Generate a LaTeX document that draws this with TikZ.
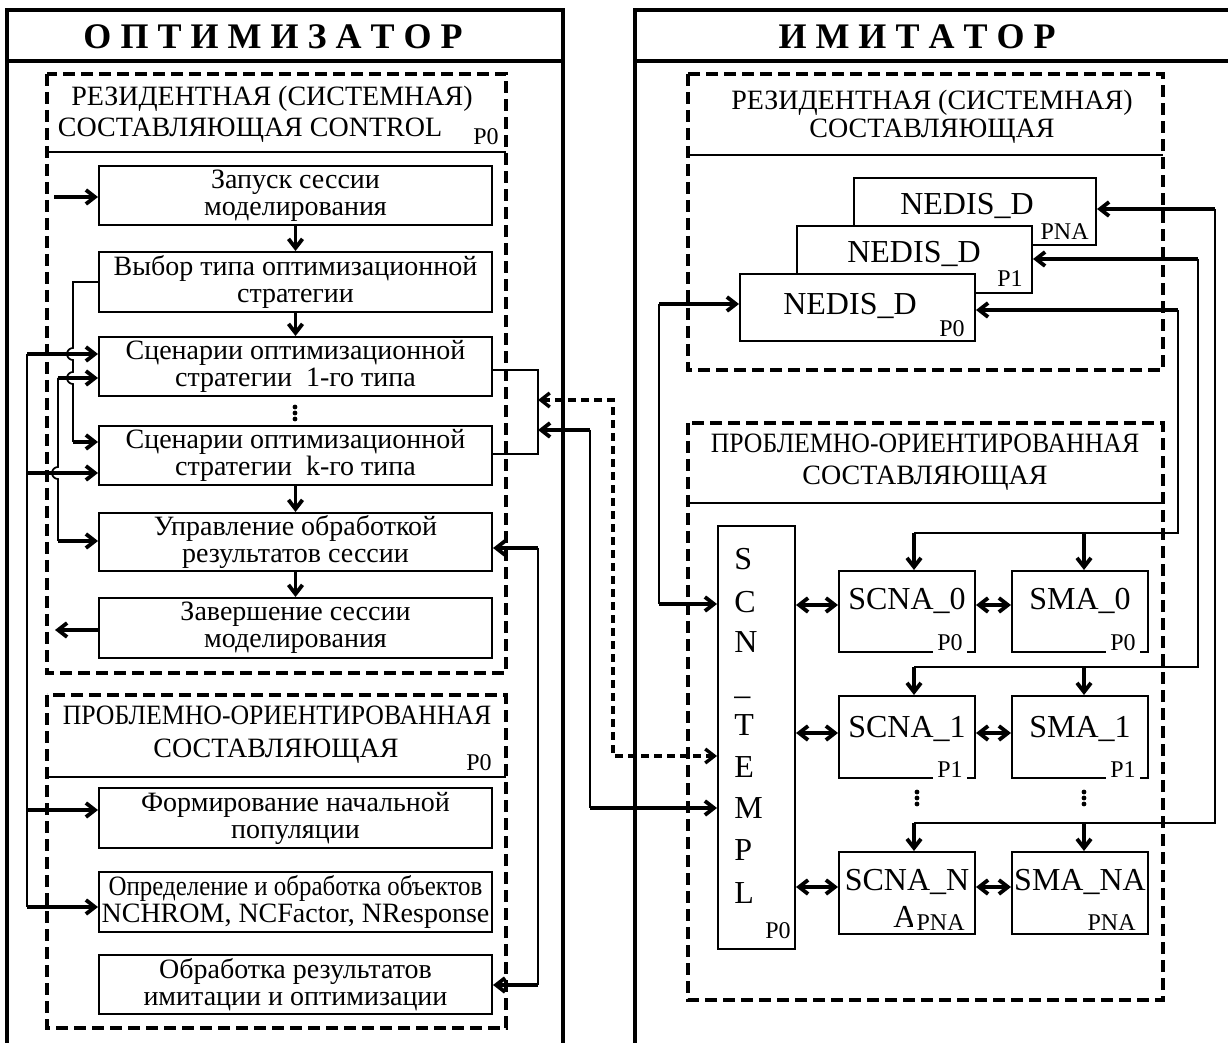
\documentclass[tikz,border=0pt]{standalone}
\usepackage{fontspec}
\setmainfont{Liberation Serif}
\usepackage{graphicx}
\usetikzlibrary{arrows.meta}
\newcommand\bodyf{\fontsize{14}{13.5}\selectfont}
\newcommand\lblf{\fontsize{12}{13}\selectfont}
\newcommand\titf{\fontsize{18}{20}\selectfont\bfseries}
\newcommand\bigf{\fontsize{16}{18}\selectfont}
\newcommand\bx[6]{\node[box,minimum width={(#4-#2)*0.5pt},minimum height={(#5-#3)*0.5pt}] (#1) at ({(#2+#4)/2},{(#3+#5)/2}) {#6};}
\tikzset{
 box/.style={draw,line width=1pt,fill=white,inner sep=0pt,align=center,font=\bodyf},
 txt/.style={inner sep=0pt,align=center,font=\bodyf,anchor=base},
 big/.style={inner sep=0pt,font=\bigf,anchor=base},
 lbl/.style={inner sep=0pt,font=\lblf,anchor=base east},
 wlbl/.style={inner xsep=2pt,inner ysep=1.5pt,font=\lblf,fill=white,anchor=base east},
 frm/.style={line width=1.8pt},
 dbox/.style={line width=1.8pt,dash pattern=on 6pt off 3pt},
 hsep/.style={line width=1pt},
 cn/.style={line width=0.85pt},
 thk/.style={line width=1.9pt},
 arr/.style={-{Straight Barb[length=4.5pt,width=7pt]}},
 rarr/.style={{Straight Barb[length=4.5pt,width=7pt]}-},
 barr/.style={{Straight Barb[length=4.5pt,width=7pt]}-{Straight Barb[length=4.5pt,width=7pt]}},
 dcn/.style={line width=1.7pt,dash pattern=on 4pt off 2.5pt},
}
\begin{document}
\begin{tikzpicture}[x=0.5pt,y=-0.5pt]
\useasboundingbox (0,0) rectangle (1228,1043);
\fill[white] (0,0) rectangle (1228,1043);
% ---------- frames ----------
\draw[frm] (7,1043) -- (7,10) -- (563,10) -- (563,1043);
\draw[frm] (7,61) -- (563,61);
\node[font=\titf,inner sep=0pt] (tOpt) at (273,37) {О П Т И М И З А Т О Р};
\draw[frm] (1228,10) -- (635,10) -- (635,1043);
\draw[frm] (635,61) -- (1228,61);
\node[font=\titf,inner sep=0pt] (tImi) at (917,37) {И М И Т А Т О Р};
% ---------- left: resident part ----------
\draw[dbox] (47,74) rectangle (506,673);
\draw[hsep] (47,152) -- (506,152);
\node[txt] (hL1a) at (272,106) {РЕЗИДЕНТНАЯ (СИСТЕМНАЯ)};
\node[txt] (hL1b) at (250,137) {СОСТАВЛЯЮЩАЯ CONTROL};
\node[lbl] (hL1p) at (499,145) {P0};
\bx{b1}{99}{166}{492}{225}{Запуск сессии\\моделирования}
\bx{b2}{99}{252}{492}{312}{Выбор типа оптимизационной\\стратегии}
\bx{b3}{99}{337}{492}{396}{Сценарии оптимизационной\\стратегии\ \ 1-го типа}
\bx{b4}{99}{426}{492}{485}{Сценарии оптимизационной\\стратегии\ \ k-го типа}
\bx{b5}{99}{513}{492}{571}{Управление обработкой\\результатов сессии}
\bx{b6}{99}{598}{492}{658}{Завершение сессии\\моделирования}
\fill (295,407) circle (2.4) (295,413) circle (2.4) (295,419) circle (2.4);
\draw[thk,arr] (b1) -- (b2);
\draw[thk,arr] (b2) -- (b3);
\draw[thk,arr] (b4) -- (b5);
\draw[thk,arr] (b5) -- (b6);
\coordinate (in1) at (54,197);
\draw[thk,arr] (in1) -- (in1 -| b1.west);
\coordinate (out1) at (55,630);
\draw[thk,arr] (out1 -| b6.west) -- (out1);
% ---------- left: problem part ----------
\draw[dbox] (47,695) rectangle (506,1028);
\draw[hsep] (47,777) -- (506,777);
\node[txt] (hL2a) at (277,725) {\scalebox{0.92}[1]{ПРОБЛЕМНО-ОРИЕНТИРОВАННАЯ}};
\node[txt] (hL2b) at (276,757) {СОСТАВЛЯЮЩАЯ};
\node[lbl] (hL2p) at (492,770) {P0};
\bx{b7}{99}{788}{492}{848}{Формирование начальной\\популяции}
\bx{b8}{99}{872}{492}{932}{\scalebox{0.89}[1]{Определение и обработка объектов}\\NCHROM, NCFactor, NResponse}
\bx{b9}{99}{955}{492}{1014}{Обработка результатов\\имитации и оптимизации}
% ---------- left connectors ----------
\coordinate (ja) at (73,282);
\coordinate (jb) at (73,442);
\draw[cn] (ja -| b2.west) -- (ja) -- (73,348) arc[start angle=270,end angle=90,radius=6] -- (73,372) arc[start angle=270,end angle=90,radius=6] -- (jb);
\draw[thk,arr] (jb) -- (jb -| b4.west);
\coordinate (k1) at (27,354);
\coordinate (k2) at (27,473);
\coordinate (k3) at (27,810);
\coordinate (k4) at (27,907);
\draw[cn] (k1) -- (k4);
\draw[thk,arr] (k1) -- (k1 -| b3.west);
\draw[thk,arr] (k2) -- (k2 -| b4.west);
\draw[thk,arr] (k3) -- (k3 -| b7.west);
\draw[thk,arr] (k4) -- (k4 -| b8.west);
\coordinate (m1) at (58,378);
\coordinate (m2) at (58,541);
\draw[cn] (m1) -- (58,467) arc[start angle=270,end angle=90,radius=6] -- (m2);
\draw[thk,arr] (m1) -- (m1 -| b3.west);
\draw[thk,arr] (m2) -- (m2 -| b5.west);
% ---------- right: resident part ----------
\draw[dbox] (688,74) rectangle (1163,370);
\draw[hsep] (688,155) -- (1163,155);
\node[txt] (hR1a) at (932,110) {РЕЗИДЕНТНАЯ (СИСТЕМНАЯ)};
\node[txt] (hR1b) at (932,138) {СОСТАВЛЯЮЩАЯ};
\bx{nd2}{854}{178}{1096}{245}{}
\node[big] (nd2t) at (967,215) {NEDIS\_D};
\node[lbl] (nd2l) at (1089,240) {PNA};
\bx{nd1}{797}{226}{1032}{293}{}
\node[big] (nd1t) at (914,263) {NEDIS\_D};
\node[lbl] (nd1l) at (1023,287) {P1};
\bx{nd0}{740}{274}{975}{341}{}
\node[big] (nd0t) at (850,315) {NEDIS\_D};
\node[lbl] (nd0l) at (965,337) {P0};
% ---------- right: problem part ----------
\draw[dbox] (688,423) rectangle (1163,1000);
\draw[hsep] (688,503) -- (1163,503);
\node[txt] (hR2a) at (925,453) {\scalebox{0.92}[1]{ПРОБЛЕМНО-ОРИЕНТИРОВАННАЯ}};
\node[txt] (hR2b) at (925,485) {СОСТАВЛЯЮЩАЯ};
\bx{sct}{718}{526}{795}{949}{}
\foreach \ch/\yy [count=\i] in {S/570,C/612,N/653,\_/694,T/735,E/777,M/818,P/860,L/903}
  \node[big,anchor=base west] (sl\i) at (734,\yy) {\ch};
\node[lbl] (sctl) at (791,938) {P0};
\bx{c0}{839}{571}{975}{652}{}
\node[big] (c0t) at (907,610) {SCNA\_0};
\node[wlbl] (c0l) at (967,650) {P0};
\bx{m0}{1012}{571}{1148}{652}{}
\node[big] (m0t) at (1080,610) {SMA\_0};
\node[wlbl] (m0l) at (1140,650) {P0};
\bx{c1}{839}{696}{975}{778}{}
\node[big] (c1t) at (907,737) {SCNA\_1};
\node[wlbl] (c1l) at (967,777) {P1};
\bx{m1}{1012}{696}{1148}{778}{}
\node[big] (m1t) at (1080,737) {SMA\_1};
\node[wlbl] (m1l) at (1140,777) {P1};
\bx{cna}{839}{852}{975}{934}{}
\node[big] (cnat) at (907,890) {SCNA\_N};
\node[big] (cnaa) at (905,927) {A};
\node[wlbl] (cnal) at (969,930) {PNA};
\bx{mna}{1012}{852}{1148}{934}{}
\node[big] (mnat) at (1080,890) {SMA\_NA};
\node[wlbl] (mnal) at (1140,930) {PNA};
\fill (917,792) circle (2.4) (917,798) circle (2.4) (917,804) circle (2.4);
\fill (1084,792) circle (2.4) (1084,798) circle (2.4) (1084,804) circle (2.4);
% horizontal two-way arrows
\coordinate (h0) at (0,605);
\coordinate (h1) at (0,733);
\coordinate (h2) at (0,887);
\draw[thk,barr] (h0 -| sct.east) -- (h0 -| c0.west);
\draw[thk,barr] (h0 -| c0.east) -- (h0 -| m0.west);
\draw[thk,barr] (h1 -| sct.east) -- (h1 -| c1.west);
\draw[thk,barr] (h1 -| c1.east) -- (h1 -| m1.west);
\draw[thk,barr] (h2 -| sct.east) -- (h2 -| cna.west);
\draw[thk,barr] (h2 -| cna.east) -- (h2 -| mna.west);
% feeds from NEDIS side
\coordinate (q0) at (1178,310);
\coordinate (q0b) at (1178,533);
\coordinate (a0) at (914,533);
\coordinate (a0m) at (1084,533);
\draw[thk,arr] (q0) -- (q0 -| nd0.east);
\draw[cn] (q0) -- (q0b) -- (a0);
\draw[thk,arr] (a0) -- (a0 |- c0.north);
\draw[thk,arr] (a0m) -- (a0m |- m0.north);
\coordinate (q1) at (1198,259);
\coordinate (q1b) at (1198,667);
\coordinate (a1) at (914,667);
\coordinate (a1m) at (1084,667);
\draw[thk,arr] (q1) -- (q1 -| nd1.east);
\draw[cn] (q1) -- (q1b) -- (a1);
\draw[thk,arr] (a1) -- (a1 |- c1.north);
\draw[thk,arr] (a1m) -- (a1m |- m1.north);
\coordinate (q2) at (1215,209);
\coordinate (q2b) at (1215,823);
\coordinate (a2) at (914,823);
\coordinate (a2m) at (1084,823);
\draw[thk,arr] (q2) -- (q2 -| nd2.east);
\draw[cn] (q2) -- (q2b) -- (a2);
\draw[thk,arr] (a2) -- (a2 |- cna.north);
\draw[thk,arr] (a2m) -- (a2m |- mna.north);
% input to NEDIS P0 and SCN_TEMPL
\coordinate (p0) at (659,304);
\coordinate (p1) at (659,604);
\draw[thk,arr] (p0) -- (p0 -| nd0.west);
\draw[cn] (p0) -- (p1);
\draw[thk,arr] (p1) -- (p1 -| sct.west);
% ---------- middle connectors ----------
\coordinate (br1) at (538,370);
\coordinate (br2) at (538,454);
\draw[cn] (br1 -| b3.east) -- (br1) -- (br2) -- (br2 -| b4.east);
\coordinate (d1) at (538,400);
\coordinate (d2) at (613,400);
\coordinate (d3) at (613,756);
\draw[dcn,barr] (d1) -- (d2) -- (d3) -- (d3 -| sct.west);
\coordinate (s1) at (538,430);
\coordinate (s2) at (590,430);
\coordinate (s3) at (590,808);
\draw[thk,rarr] (s1) -- (s2);
\draw[cn] (s2) -- (s3);
\draw[thk,arr] (s3) -- (s3 -| sct.west);
\coordinate (r1) at (538,548);
\coordinate (r2) at (538,985);
\draw[cn] (r1) -- (r2);
\draw[thk,arr] (r1) -- (r1 -| b5.east);
\draw[thk,arr] (r2) -- (r2 -| b9.east);
\end{tikzpicture}
\end{document}
